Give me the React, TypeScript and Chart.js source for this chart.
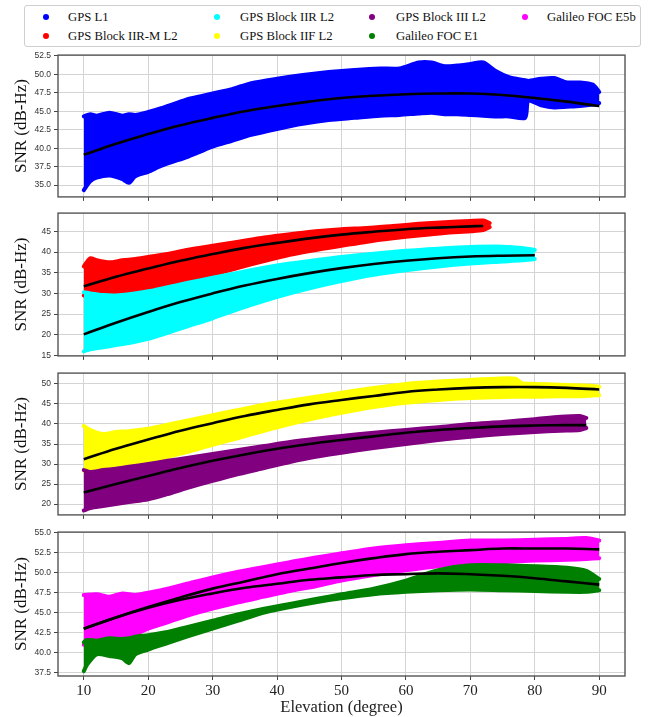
import React, { useEffect, useRef } from "react";
import { Chart, registerables } from "chart.js";

Chart.register(...registerables);

// ---------- shared axis values ----------
const xTicks = [10, 20, 30, 40, 50, 60, 70, 80, 90];
const fitX = [10, 15, 20, 25, 30, 35, 40, 45, 50, 55, 60, 65, 70, 75, 80, 85, 90];

// ---------- Panel 1: GPS L1 ----------
const l1X = [10, 11, 12, 14, 16, 17, 18, 20, 22, 24, 26, 28, 30, 33, 36, 40, 44, 48, 52, 56, 59, 62, 64, 66, 68, 70, 72, 74, 76, 78.5, 79, 81, 83, 85, 87, 89, 90];
const l1Upper = [44.3, 44.6, 44.4, 44.8, 44.4, 44.6, 44.5, 44.9, 45.4, 46.0, 46.6, 47.0, 47.4, 48.0, 48.8, 49.4, 49.9, 50.3, 50.6, 50.8, 50.8, 51.6, 51.6, 51.1, 51.2, 51.4, 51.6, 50.4, 49.6, 49.2, 49.1, 49.4, 49.5, 48.9, 48.9, 48.6, 47.6];
const l1Lower = [34.3, 35.5, 36.0, 36.3, 35.8, 35.3, 36.2, 36.8, 37.6, 38.2, 38.8, 39.5, 40.2, 41.0, 41.8, 42.6, 43.3, 43.8, 44.1, 44.4, 44.5, 44.7, 44.8, 44.6, 44.6, 44.5, 44.4, 44.3, 44.3, 44.1, 46.4, 45.8, 45.5, 45.6, 45.7, 45.9, 46.1];
const l1Fit = [39.1, 40.6, 41.9, 43.1, 44.1, 45.0, 45.7, 46.3, 46.8, 47.1, 47.3, 47.4, 47.4, 47.2, 46.8, 46.3, 45.7];
const p1Ticks = [35, 37.5, 40, 42.5, 45, 47.5, 50, 52.5];

// ---------- Panel 2: GPS Block IIR-M L2 (red), GPS Block IIR L2 (cyan) ----------
const iirmX = [10, 11, 12, 14, 16, 18, 20, 23, 26, 30, 34, 38, 42, 46, 50, 54, 58, 62, 66, 70, 72, 73];
const iirmUpper = [36.5, 38.5, 38.0, 37.5, 38.0, 38.3, 38.8, 39.5, 40.5, 41.5, 42.5, 43.5, 44.3, 45.0, 45.5, 45.8, 46.3, 46.8, 47.2, 47.5, 47.6, 47.0];
const iirmLower = [29.5, 29.3, 29.5, 29.8, 29.5, 30.2, 30.8, 31.8, 33.0, 34.5, 36.2, 37.8, 39.3, 40.5, 41.5, 42.5, 43.3, 44.0, 44.6, 45.0, 45.3, 46.0];
const iirmFitX = [10, 15, 20, 25, 30, 35, 40, 45, 50, 55, 60, 65, 70, 72];
const iirmFit = [31.7, 34.0, 36.0, 37.9, 39.5, 41.0, 42.2, 43.3, 44.2, 44.9, 45.5, 45.9, 46.2, 46.3];

const iirX = [10, 11, 13, 15, 17, 20, 23, 26, 30, 34, 38, 42, 46, 50, 55, 60, 65, 70, 75, 78, 80];
const iirUpper = [30.3, 30.0, 29.6, 29.5, 29.8, 30.5, 31.5, 32.5, 33.8, 35.0, 36.2, 37.2, 38.0, 38.8, 39.6, 40.3, 40.8, 41.2, 41.3, 41.0, 40.5];
const iirLower = [16.0, 16.5, 17.0, 17.5, 18.0, 19.0, 20.5, 22.0, 24.0, 26.2, 28.2, 30.0, 31.6, 33.0, 34.5, 35.6, 36.5, 37.2, 37.7, 38.0, 38.3];
const iirFitX = [10, 15, 20, 25, 30, 35, 40, 45, 50, 55, 60, 65, 70, 75, 80];
const iirFit = [20.1, 22.9, 25.5, 27.9, 30.0, 31.9, 33.5, 34.9, 36.1, 37.1, 37.9, 38.5, 38.9, 39.1, 39.2];
const p2Ticks = [15, 20, 25, 30, 35, 40, 45];

// ---------- Panel 3: GPS Block IIF L2 (yellow), GPS Block III L2 (purple) ----------
const iifX = [10, 11, 13, 15, 17, 20, 23, 26, 30, 34, 38, 42, 46, 50, 55, 60, 65, 70, 74, 77, 78, 80, 84, 88, 90];
const iifUpper = [39.5, 38.5, 37.5, 38.0, 38.2, 38.8, 39.8, 40.8, 42.2, 43.5, 44.8, 45.8, 46.8, 47.8, 49.0, 50.0, 50.6, 51.0, 51.3, 51.3, 50.2, 50.0, 49.8, 49.6, 49.3];
const iifLower = [28.3, 28.5, 29.0, 29.3, 29.5, 30.5, 31.8, 33.0, 34.8, 36.5, 38.3, 40.0, 41.5, 42.8, 44.2, 45.3, 46.0, 46.5, 46.7, 46.8, 46.8, 46.8, 46.9, 47.0, 47.2];
const iifFit = [31.2, 33.8, 36.1, 38.3, 40.2, 42.0, 43.5, 44.9, 46.0, 47.0, 48.0, 48.6, 49.0, 49.2, 49.2, 49.0, 48.6];

const iiiX = [10, 11, 13, 15, 17, 20, 23, 26, 30, 34, 38, 42, 46, 50, 55, 60, 65, 70, 75, 80, 84, 87, 88];
const iiiUpper = [28.5, 28.0, 28.5, 28.8, 29.3, 30.0, 30.8, 31.5, 32.5, 33.5, 34.5, 35.5, 36.3, 37.0, 37.8, 38.5, 39.2, 40.0, 40.5, 41.2, 41.8, 42.0, 41.5];
const iiiLower = [18.4, 19.0, 19.5, 20.0, 20.5, 21.2, 22.5, 24.0, 25.8, 27.5, 29.0, 30.5, 31.8, 32.8, 34.0, 35.0, 36.0, 36.8, 37.5, 38.0, 38.3, 38.5, 39.0];
const iiiFitX = [10, 15, 20, 25, 30, 35, 40, 45, 50, 55, 60, 65, 70, 75, 80, 85, 88];
const iiiFit = [22.9, 25.0, 27.0, 29.0, 30.8, 32.4, 33.8, 35.0, 36.0, 36.9, 37.8, 38.5, 39.0, 39.4, 39.6, 39.7, 39.7];
const p3Ticks = [20, 25, 30, 35, 40, 45, 50];

// ---------- Panel 4: Galileo FOC E5b (magenta), Galileo FOC E1 (green) ----------
const e5bX = [10, 12, 14, 16, 18, 20, 23, 26, 30, 34, 38, 42, 46, 50, 55, 60, 65, 70, 75, 80, 85, 88, 90];
const e5bUpper = [47.2, 47.3, 47.0, 47.4, 47.2, 47.5, 48.0, 48.6, 49.4, 50.1, 50.7, 51.3, 51.9, 52.4, 53.0, 53.4, 53.7, 54.0, 54.0, 54.1, 54.2, 54.3, 54.0];
const e5bLower = [41.0, 41.2, 41.3, 41.8, 42.3, 43.0, 43.8, 44.6, 45.5, 46.3, 47.0, 47.7, 48.3, 49.0, 49.7, 50.3, 50.8, 51.1, 51.3, 51.5, 51.6, 51.7, 51.8];
const e5bFit = [43.0, 44.4, 45.7, 46.9, 48.0, 48.9, 49.8, 50.5, 51.2, 51.8, 52.3, 52.6, 52.8, 53.0, 53.0, 53.0, 52.9];

const e1X = [10, 10.5, 12, 14, 16, 17, 18, 20, 23, 26, 30, 34, 38, 42, 46, 50, 55, 60, 65, 70, 75, 80, 85, 88, 90];
const e1Upper = [41.3, 41.6, 41.5, 41.8, 41.7, 41.8, 42.0, 42.2, 42.6, 43.2, 44.0, 44.8, 45.5, 46.1, 46.7, 47.3, 48.0, 49.0, 50.3, 50.9, 50.9, 50.8, 50.6, 50.2, 49.2];
const e1Lower = [37.7, 38.5, 39.8, 39.6, 39.3, 38.7, 39.8, 40.4, 41.2, 42.0, 43.0, 44.0, 45.0, 45.7, 46.3, 46.8, 47.3, 47.6, 47.8, 47.9, 47.8, 47.7, 47.6, 47.6, 47.8];
const e1Fit = [43.0, 44.4, 45.6, 46.6, 47.4, 48.1, 48.6, 49.1, 49.4, 49.7, 49.8, 49.9, 49.8, 49.6, 49.3, 48.9, 48.5];
const p4Ticks = [37.5, 40, 42.5, 45, 47.5, 50, 52.5, 55];

// ---------- legend ----------
const legendItems = [
  { label: "GPS L1", color: "#0000ff" },
  { label: "GPS Block IIR-M L2", color: "#ff0000" },
  { label: "GPS Block IIR L2", color: "#00ffff" },
  { label: "GPS Block IIF L2", color: "#ffff00" },
  { label: "GPS Block III L2", color: "#800080" },
  { label: "Galileo FOC E1", color: "#008000" },
  { label: "Galileo FOC E5b", color: "#ff00ff" },
];

const pts = (xs: number[], ys: number[]) => xs.map((x, i) => ({ x, y: ys[i] }));

function band(color: string, xs: number[], up: number[], lo: number[], order: number) {
  const common = {
    borderColor: color,
    backgroundColor: color,
    borderWidth: 4,
    borderCapStyle: "round",
    borderJoinStyle: "round",
    pointRadius: 0,
    showLine: true,
    tension: 0.25,
    order,
  };
  return [
    { ...common, data: pts(xs, up), fill: "+1" },
    { ...common, data: pts(xs, lo), fill: false },
  ];
}

function fitLine(xs: number[], ys: number[]) {
  return {
    data: pts(xs, ys),
    borderColor: "#000",
    backgroundColor: "#000",
    borderWidth: 2.6,
    pointRadius: 0,
    showLine: true,
    fill: false,
    tension: 0.4,
    order: 0,
  };
}

const framePlugin = {
  id: "frame",
  afterDraw(chart: any) {
    const { ctx, chartArea: a } = chart;
    ctx.save();
    ctx.strokeStyle = "#555";
    ctx.lineWidth = 1.4;
    ctx.strokeRect(a.left, a.top, a.right - a.left, a.bottom - a.top);
    ctx.restore();
  },
};

const PLOT_W = 651;

type PanelDef = {
  top: number;
  height: number;
  xHeight: number;
  showX: boolean;
  yMin: number;
  yMax: number;
  yTicks: number[];
  decimals: number;
  datasets: any[];
};

const panels: PanelDef[] = [
  {
    top: 47, height: 158, xHeight: 6, showX: false,
    yMin: 33.4, yMax: 52.6, yTicks: p1Ticks, decimals: 1,
    datasets: [fitLine(fitX, l1Fit), ...band("#0000ff", l1X, l1Upper, l1Lower, 1)],
  },
  {
    top: 205, height: 159, xHeight: 6, showX: false,
    yMin: 14.9, yMax: 49.4, yTicks: p2Ticks, decimals: 0,
    datasets: [
      fitLine(iirmFitX, iirmFit),
      fitLine(iirFitX, iirFit),
      ...band("#00ffff", iirX, iirUpper, iirLower, 1),
      ...band("#ff0000", iirmX, iirmUpper, iirmLower, 2),
    ],
  },
  {
    top: 365, height: 158, xHeight: 6, showX: false,
    yMin: 17.3, yMax: 52.7, yTicks: p3Ticks, decimals: 0,
    datasets: [
      fitLine(fitX, iifFit),
      fitLine(iiiFitX, iiiFit),
      ...band("#800080", iiiX, iiiUpper, iiiLower, 1),
      ...band("#ffff00", iifX, iifUpper, iifLower, 2),
    ],
  },
  {
    top: 524, height: 193, xHeight: 41, showX: true,
    yMin: 37.1, yMax: 55.05, yTicks: p4Ticks, decimals: 1,
    datasets: [
      fitLine(fitX, e5bFit),
      fitLine(fitX, e1Fit),
      ...band("#008000", e1X, e1Upper, e1Lower, 1),
      ...band("#ff00ff", e5bX, e5bUpper, e5bLower, 2),
    ],
  },
];

function buildChart(canvas: HTMLCanvasElement, p: PanelDef) {
  return new Chart(canvas, {
    type: "scatter",
    data: { datasets: p.datasets },
    options: {
      responsive: false,
      animation: false,
      devicePixelRatio: 1,
      layout: { padding: { top: 8, right: 26, left: 0, bottom: 0 } },
      plugins: { legend: { display: false }, tooltip: { enabled: false } },
      scales: {
        x: {
          type: "linear",
          min: 6,
          max: 94,
          afterBuildTicks: (s: any) => {
            s.ticks = xTicks.map((v) => ({ value: v }));
          },
          afterFit: (s: any) => {
            s.height = p.xHeight;
          },
          grid: { color: "#d4d4d4", lineWidth: 1, tickLength: 4, tickColor: "#444" },
          border: { display: false },
          ticks: {
            display: p.showX,
            maxRotation: 0,
            autoSkip: false,
            padding: 2,
            color: "#222",
            font: { family: "'Liberation Serif', 'Times New Roman', serif", size: 15 },
          },
          title: {
            display: p.showX,
            text: "Elevation (degree)",
            color: "#222",
            font: { family: "'Liberation Serif', 'Times New Roman', serif", size: 16.5, lineHeight: 1.1 },
            padding: { top: 0, bottom: 0 },
          },
        },
        y: {
          type: "linear",
          min: p.yMin,
          max: p.yMax,
          afterBuildTicks: (s: any) => {
            s.ticks = p.yTicks.map((v) => ({ value: v }));
          },
          afterFit: (s: any) => {
            s.width = 58;
          },
          grid: { color: "#d4d4d4", lineWidth: 1, tickLength: 4, tickColor: "#444" },
          border: { display: false },
          ticks: {
            autoSkip: false,
            padding: 3,
            color: "#333",
            font: { family: "'Liberation Sans', Arial, sans-serif", size: 8.5 },
            callback: (v: any) => Number(v).toFixed(p.decimals),
          },
          title: {
            display: true,
            text: "SNR (dB-Hz)",
            color: "#111",
            font: { family: "'Liberation Serif', 'Times New Roman', serif", size: 17 },
            padding: { top: 11, bottom: 0 },
          },
        },
      },
    } as any,
    plugins: [framePlugin],
  });
}

function Legend() {
  const colX = [45, 216, 371, 524];
  const textX = [67, 239, 395, 546];
  const rowY = [16, 35];
  return (
    <div
      style={{
        position: "absolute",
        left: 24,
        top: 5,
        width: 617,
        height: 42,
        border: "1px solid #cfcfcf",
        borderRadius: 3,
        boxSizing: "border-box",
        background: "#fff",
      }}
    >
      {legendItems.map((it, i) => {
        const col = Math.floor(i / 2);
        const row = i % 2;
        return (
          <React.Fragment key={it.label}>
            <div
              style={{
                position: "absolute",
                left: colX[col] - 24 - 3,
                top: rowY[row] - 5 - 3,
                width: 6,
                height: 6,
                borderRadius: "50%",
                background: it.color,
              }}
            />
            <div
              style={{
                position: "absolute",
                left: textX[col] - 24,
                top: rowY[row] - 5 - 8,
                height: 16,
                lineHeight: "16px",
                fontFamily: "'Liberation Serif', 'Times New Roman', serif",
                fontSize: 12.7,
                color: "#111",
                whiteSpace: "nowrap",
              }}
            >
              {it.label}
            </div>
          </React.Fragment>
        );
      })}
    </div>
  );
}

export default function App() {
  const refs = useRef<(HTMLCanvasElement | null)[]>([]);

  useEffect(() => {
    const charts = panels.map((p, i) => buildChart(refs.current[i] as HTMLCanvasElement, p));
    return () => charts.forEach((c) => c.destroy());
  }, []);

  return (
    <div style={{ position: "absolute", left: 0, top: 0, width: 651, height: 717, background: "#fff" }}>
      <Legend />
      {panels.map((p, i) => (
        <canvas
          key={i}
          ref={(el) => {
            refs.current[i] = el;
          }}
          width={PLOT_W}
          height={p.height}
          style={{ position: "absolute", left: 0, top: p.top, width: PLOT_W, height: p.height, display: "block" }}
        />
      ))}
    </div>
  );
}
